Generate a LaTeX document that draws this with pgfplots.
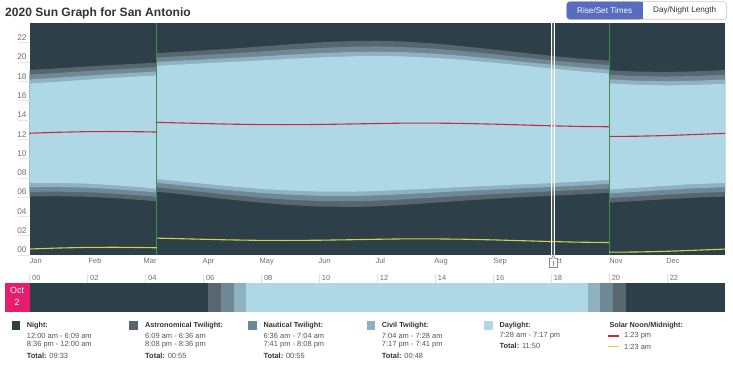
\documentclass[border=0pt]{standalone}
\usepackage{pgfplots}
\pgfplotsset{compat=1.18}
\usepackage{pgfplotstable}
\usepgfplotslibrary{fillbetween}
\usepackage{fontspec}
\setmainfont{Liberation Sans}
\definecolor{night}{RGB}{45,63,72}
\definecolor{astro}{RGB}{88,102,110}
\definecolor{naut}{RGB}{111,136,149}
\definecolor{civil}{RGB}{143,178,193}
\definecolor{day}{RGB}{174,216,230}
\definecolor{noonred}{RGB}{196,45,60}
\definecolor{midyel}{RGB}{205,214,64}
\definecolor{dstgreen}{RGB}{62,140,80}
\definecolor{lbl}{RGB}{110,110,110}
\definecolor{txt}{RGB}{51,51,51}
\definecolor{ltxt}{RGB}{85,85,85}
\definecolor{pinkbox}{RGB}{230,28,108}
\definecolor{btnblue}{RGB}{88,108,192}
\newcommand{\legf}{\fontsize{7.5}{9}\selectfont}
\newcommand{\legbf}{\fontsize{7.3}{9}\selectfont\bfseries}

\pgfplotstableread{
d ad nd cd sr ss cu nu au
0 6.062 6.546 7.039 7.474 17.770 18.205 18.698 19.182
14 6.096 6.574 7.061 7.489 17.945 18.373 18.860 19.338
31 6.035 6.504 6.979 7.395 18.189 18.605 19.080 19.549
45 5.892 6.354 6.820 7.226 18.376 18.782 19.248 19.710
60 5.682 6.142 6.602 7.000 18.546 18.944 19.404 19.864
67 5.557 6.017 6.476 6.873 18.623 19.020 19.479 19.939
67 6.557 7.017 7.476 7.873 19.623 20.020 20.479 20.939
74 6.426 6.888 7.348 7.744 19.690 20.086 20.546 21.008
91 6.064 6.538 7.005 7.403 19.863 20.261 20.728 21.202
105 5.752 6.244 6.723 7.129 20.005 20.411 20.890 21.382
121 5.436 5.952 6.452 6.871 20.163 20.582 21.082 21.598
135 5.207 5.751 6.269 6.701 20.315 20.747 21.265 21.809
152 5.022 5.595 6.135 6.581 20.479 20.925 21.465 22.038
172 4.984 5.572 6.124 6.578 20.608 21.062 21.614 22.202
182 5.044 5.628 6.177 6.629 20.627 21.079 21.628 22.212
196 5.194 5.762 6.298 6.742 20.594 21.038 21.574 22.142
213 5.418 5.955 6.470 6.899 20.443 20.872 21.387 21.924
227 5.615 6.126 6.621 7.037 20.247 20.663 21.158 21.669
244 5.824 6.309 6.784 7.188 19.946 20.350 20.825 21.310
258 5.981 6.451 6.916 7.313 19.667 20.064 20.529 20.999
274 6.135 6.596 7.055 7.451 19.345 19.741 20.200 20.661
288 6.270 6.729 7.191 7.589 19.075 19.473 19.935 20.394
305 6.440 6.904 7.373 7.782 18.804 19.213 19.682 20.146
305 5.440 5.904 6.373 6.782 17.804 18.213 18.682 19.146
319 5.598 6.069 6.548 6.967 17.653 18.072 18.551 19.022
335 5.779 6.260 6.749 7.179 17.581 18.011 18.500 18.981
349 5.934 6.418 6.912 7.348 17.618 18.054 18.548 19.032
366 6.055 6.539 7.032 7.468 17.758 18.194 18.687 19.171
}\sun

\begin{document}
\begin{tikzpicture}[x=1bp,y=1bp]

% title
\node[anchor=base west, inner sep=0, font=\fontsize{12.1}{14}\selectfont\bfseries, text=txt] at (5,355) {2020 Sun Graph for San Antonio};

% buttons
\draw[draw=black!22, fill=white, rounded corners=3bp, line width=0.6bp] (566.7,351.7) rectangle (726.7,369.3);
\fill[btnblue, rounded corners=3bp] (566.7,351.7) rectangle (642.7,369.3);
\fill[btnblue] (638,351.7) rectangle (642.7,369.3);
\node[font=\fontsize{8.2}{9}\selectfont, text=white, inner sep=0] at (604.7,360.5) {Rise/Set Times};
\node[font=\fontsize{8.2}{9}\selectfont, text=txt, inner sep=0] at (684.7,360.5) {Day/Night Length};

% main chart
\begin{axis}[at={(29.5bp,116bp)}, anchor=south west, scale only axis,
  width=695.5bp, height=231.5bp,
  xmin=0, xmax=366, ymin=0, ymax=24,
  axis line style={draw=none},
  axis background/.style={fill=night},
  clip=false,
  tick align=inside, tick style={draw=none},
  xtick pos=left, ytick pos=left,
  ytick={0,2,...,22},
  yticklabels={00,02,04,06,08,10,12,14,16,18,20,22},
  xtick={0,31,60,91,121,152,182,213,244,274,305,335},
  xticklabels={Jan,Feb,Mar,Apr,May,Jun,Jul,Aug,Sep,Oct,Nov,Dec},
  yticklabel style={anchor=east, inner sep=0pt, xshift=-2.8bp, yshift=5bp,
    font=\fontsize{8.3}{9}\selectfont, text=lbl},
  xticklabel style={anchor=north west, inner sep=0pt, yshift=-3bp,
    font=\fontsize{7.5}{9}\selectfont, text=lbl},
]
\addplot[draw=none, no markers, forget plot, name path=A1] table[x=d, y=ad]{\sun};
\addplot[draw=none, no markers, forget plot, name path=A2] table[x=d, y=au]{\sun};
\addplot[fill=astro, draw=none] fill between[of=A1 and A2];
\addplot[draw=none, no markers, forget plot, name path=N1] table[x=d, y=nd]{\sun};
\addplot[draw=none, no markers, forget plot, name path=N2] table[x=d, y=nu]{\sun};
\addplot[fill=naut, draw=none] fill between[of=N1 and N2];
\addplot[draw=none, no markers, forget plot, name path=C1] table[x=d, y=cd]{\sun};
\addplot[draw=none, no markers, forget plot, name path=C2] table[x=d, y=cu]{\sun};
\addplot[fill=civil, draw=none] fill between[of=C1 and C2];
\addplot[draw=none, no markers, forget plot, name path=D1] table[x=d, y=sr]{\sun};
\addplot[draw=none, no markers, forget plot, name path=D2] table[x=d, y=ss]{\sun};
\addplot[fill=day, draw=none] fill between[of=D1 and D2];
% DST switches
\draw[dstgreen, line width=0.7bp] (axis cs:67,0) -- (axis cs:67,24);
\draw[dstgreen, line width=0.7bp] (axis cs:305,0) -- (axis cs:305,24);
% solar noon
\addplot[noonred, line width=1.1bp, no markers] coordinates {(0,12.622)(14,12.717)(31,12.792)(45,12.801)(60,12.773)(67,12.748)};
\addplot[noonred, line width=1.1bp, no markers] coordinates {(67,13.748)(74,13.717)(91,13.633)(105,13.567)(121,13.517)(135,13.508)(152,13.530)(172,13.593)(182,13.628)(196,13.668)(213,13.671)(227,13.642)(244,13.567)(258,13.490)(274,13.398)(288,13.332)(305,13.293)};
\addplot[noonred, line width=1.1bp, no markers] coordinates {(305,12.293)(319,12.310)(335,12.380)(349,12.483)(366,12.613)};
% solar midnight
\addplot[midyel, line width=1.1bp, no markers] coordinates {(0,0.622)(14,0.717)(31,0.792)(45,0.801)(60,0.773)(67,0.748)};
\addplot[midyel, line width=1.1bp, no markers] coordinates {(67,1.748)(74,1.717)(91,1.633)(105,1.567)(121,1.517)(135,1.508)(152,1.530)(172,1.593)(182,1.628)(196,1.668)(213,1.671)(227,1.642)(244,1.567)(258,1.490)(274,1.398)(288,1.332)(305,1.293)};
\addplot[midyel, line width=1.1bp, no markers] coordinates {(305,0.293)(319,0.310)(335,0.380)(349,0.483)(366,0.613)};
% cursor at Oct 2
\fill[white, opacity=0.18] (axis cs:274.5,0) rectangle (axis cs:276.2,24);
\draw[white, line width=0.8bp] (axis cs:274.5,0) -- (axis cs:274.5,24);
\draw[white, line width=0.8bp] (axis cs:276.2,0) -- (axis cs:276.2,24);
\end{axis}

% y tick marks of the main chart
\foreach \k in {0,2,...,22} \draw[black!10, line width=0.6bp] (17.5,{116+231.5*\k/24}) -- (29.5,{116+231.5*\k/24});

% cursor handle
\draw[black!45, fill=white, line width=0.6bp] (549.3,103.5) rectangle (557.3,112.5);
\draw[black!45, fill=white, line width=0.6bp] (551.3,112.5) -- (553.3,115.5) -- (555.3,112.5);
\draw[black!45, line width=0.5bp] (553.3,105.5) -- (553.3,110.5);

% day bar
\fill[pinkbox] (5,58.7) rectangle (29.5,88);
\node[text=white, font=\fontsize{9}{10}\selectfont, inner sep=0] at (17.2,81) {Oct};
\node[text=white, font=\fontsize{9}{10}\selectfont, inner sep=0] at (17.2,68.7) {2};

\begin{axis}[at={(29.5bp,58.7bp)}, anchor=south west, scale only axis,
  width=695.5bp, height=29.3bp,
  xmin=0, xmax=24, ymin=0, ymax=1,
  axis line style={draw=none}, ytick=\empty,
  tick align=inside, tick style={draw=none},
  xtick pos=right, xticklabel pos=right,
  xtick={0,2,...,22},
  xticklabels={00,02,04,06,08,10,12,14,16,18,20,22},
  xticklabel style={anchor=base west, inner sep=0pt, xshift=2.5bp, yshift=2.5bp,
    font=\fontsize{7.5}{9}\selectfont, text=lbl},
]
\addplot[fill=night, draw=none] coordinates {(0,0)(6.15,0)(6.15,1)(0,1)} -- cycle;
\addplot[fill=astro, draw=none] coordinates {(6.15,0)(6.6,0)(6.6,1)(6.15,1)} -- cycle;
\addplot[fill=naut, draw=none] coordinates {(6.6,0)(7.067,0)(7.067,1)(6.6,1)} -- cycle;
\addplot[fill=civil, draw=none] coordinates {(7.067,0)(7.467,0)(7.467,1)(7.067,1)} -- cycle;
\addplot[fill=day, draw=none] coordinates {(7.467,0)(19.283,0)(19.283,1)(7.467,1)} -- cycle;
\addplot[fill=civil, draw=none] coordinates {(19.283,0)(19.683,0)(19.683,1)(19.283,1)} -- cycle;
\addplot[fill=naut, draw=none] coordinates {(19.683,0)(20.133,0)(20.133,1)(19.683,1)} -- cycle;
\addplot[fill=astro, draw=none] coordinates {(20.133,0)(20.6,0)(20.6,1)(20.133,1)} -- cycle;
\addplot[fill=night, draw=none] coordinates {(20.6,0)(24,0)(24,1)(20.6,1)} -- cycle;
\end{axis}
\foreach \h in {0,2,...,22} \draw[black!12, line width=0.6bp] ({29.5+695.5*\h/24},88.5) -- ({29.5+695.5*\h/24},97);

% legend
\fill[night] (11.5,41.2) rectangle (20,49.7);
\node[anchor=west, inner sep=0, font=\legbf, text=txt] at (26.7,45.3) {Night:};
\node[anchor=west, inner sep=0, font=\legf, text=ltxt] at (26.7,35.3) {12:00 am - 6:09 am};
\node[anchor=west, inner sep=0, font=\legf, text=ltxt] at (26.7,26.3) {8:36 pm - 12:00 am};
\node[anchor=west, inner sep=0, font=\legf, text=ltxt] at (26.7,15.3) {{\bfseries\color{txt}Total:} 09:33};

\fill[astro] (129.3,41.2) rectangle (137.8,49.7);
\node[anchor=west, inner sep=0, font=\legbf, text=txt] at (145,45.3) {Astronomical Twilight:};
\node[anchor=west, inner sep=0, font=\legf, text=ltxt] at (145,35.3) {6:09 am - 6:36 am};
\node[anchor=west, inner sep=0, font=\legf, text=ltxt] at (145,26.3) {8:08 pm - 8:36 pm};
\node[anchor=west, inner sep=0, font=\legf, text=ltxt] at (145,15.3) {{\bfseries\color{txt}Total:} 00:55};

\fill[naut] (248,41.2) rectangle (256.5,49.7);
\node[anchor=west, inner sep=0, font=\legbf, text=txt] at (263.3,45.3) {Nautical Twilight:};
\node[anchor=west, inner sep=0, font=\legf, text=ltxt] at (263.3,35.3) {6:36 am - 7:04 am};
\node[anchor=west, inner sep=0, font=\legf, text=ltxt] at (263.3,26.3) {7:41 pm - 8:08 pm};
\node[anchor=west, inner sep=0, font=\legf, text=ltxt] at (263.3,15.3) {{\bfseries\color{txt}Total:} 00:55};

\fill[civil] (366.7,41.2) rectangle (375.2,49.7);
\node[anchor=west, inner sep=0, font=\legbf, text=txt] at (381.7,45.3) {Civil Twilight:};
\node[anchor=west, inner sep=0, font=\legf, text=ltxt] at (381.7,35.3) {7:04 am - 7:28 am};
\node[anchor=west, inner sep=0, font=\legf, text=ltxt] at (381.7,26.3) {7:17 pm - 7:41 pm};
\node[anchor=west, inner sep=0, font=\legf, text=ltxt] at (381.7,15.3) {{\bfseries\color{txt}Total:} 00:48};

\fill[day] (484,41.2) rectangle (492.5,49.7);
\node[anchor=west, inner sep=0, font=\legbf, text=txt] at (499.3,45.3) {Daylight:};
\node[anchor=west, inner sep=0, font=\legf, text=ltxt] at (499.3,35.3) {7:28 am - 7:17 pm};
\node[anchor=west, inner sep=0, font=\legf, text=ltxt] at (499.3,25) {{\bfseries\color{txt}Total:} 11:50};

\node[anchor=west, inner sep=0, font=\legbf, text=txt] at (609.3,45.3) {Solar Noon/Midnight:};
\draw[noonred, line width=1.1bp] (608.3,35) -- (619.3,35);
\node[anchor=west, inner sep=0, font=\legf, text=ltxt] at (624,35.3) {1:23 pm};
\draw[midyel, line width=1.1bp] (608.3,24.3) -- (619.3,24.3);
\node[anchor=west, inner sep=0, font=\legf, text=ltxt] at (624,24.5) {1:23 am};

\pgfresetboundingbox
\useasboundingbox (0,0) rectangle (733,371);
\end{tikzpicture}
\end{document}
